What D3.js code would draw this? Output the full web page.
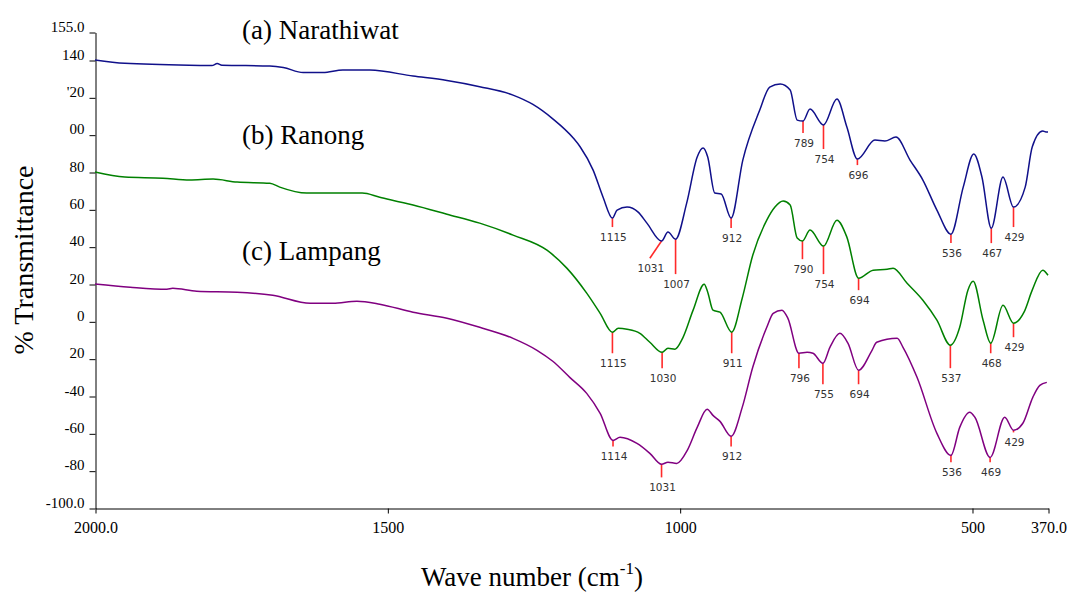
<!DOCTYPE html>
<html>
<head>
<meta charset="utf-8">
<script src="https://cdn.jsdelivr.net/npm/d3@7/dist/d3.min.js"></script>
<style>
  html, body { margin: 0; padding: 0; background: #fff; }
  svg { display: block; }
</style>
</head>
<body>
<svg id="chart" width="1070" height="592"></svg>
<script>
// ---------- DATA ----------
const xTicks = [2000, 1500, 1000, 500, 370];
const xTickLabels = ["2000.0", "1500", "1000", "500", "370.0"];
const yTicks = [155, 140, 120, 100, 80, 60, 40, 20, 0, -20, -40, -60, -80, -100];
const yTickLabels = ["155.0", "140", "'20", "00", "80", "60", "40", "20", "0", "20", "-40", "-60", "-80", "-100.0"];

const seriesNames = ["(a) Narathiwat", "(b) Ranong", "(c) Lampang"];

// [wavenumber cm-1, % transmittance]
const narathiwat = [
  [2000,140.0],[1949,138.2],[1820,137.1],[1800,137.0],[1791,138.1],[1783,137.2],[1701,136.8],
  [1678,136.0],[1644,133.3],[1610,133.3],[1576,134.7],[1530,134.6],[1456,131.4],[1398,129.0],
  [1342,125.7],[1285,121.2],[1251,116.2],[1217,108.5],[1182,98.2],[1170,93.4],
  [1148,81.0],[1131,66.5],[1115,55.3],[1107,59.6],[1090,61.2],[1071,58.5],[1056,52.6],
  [1031,43.0],[1020,47.8],[1007,44.0],[988,63.3],[970,88.0],[960,92.8],[952,88.0],[940,68.7],
  [929,68.2],[912,55.3],[892,86.4],[863,113.2],[846,125.5],[828,127.1],[811,123.9],[799,107.8],
  [789,107.3],[777,113.7],[754,105.2],[731,119.1],[714,104.1],[696,86.9],[666,97.1],[649,96.6],
  [630,98.7],[606,86.4],[584,75.7],[560,59.6],[536,46.7],[515,71.9],[497,89.6],[483,77.3],
  [467,49.9],[447,77.3],[429,61.2],[409,71.9],[397,93.4],[379,101.9],[372,101.4],[370,101.4]
];
const ranong = [
  [2000,80.0],[1949,77.3],[1884,76.7],[1838,75.7],[1798,76.2],[1757,74.6],[1701,74.0],[1684,71.9],
  [1638,68.7],[1604,68.7],[1543,68.7],[1513,66.5],[1456,62.3],[1398,57.4],[1342,52.6],[1285,46.2],
  [1227,38.1],[1193,28.5],[1159,15.1],[1136,4.3],[1115,-5.8],[1105,-3.7],[1090,-4.2],[1068,-6.4],
  [1051,-11.2],[1030,-16.6],[1020,-14.4],[1008,-14.9],[995,-9.1],[977,6.0],[958,19.9],[952,15.6],
  [943,6.0],[931,4.9],[911,-5.8],[893,12.4],[875,35.4],[851,54.2],[837,61.2],[823,64.4],[811,62.3],
  [799,44.6],[790,43.0],[777,48.9],[754,40.3],[731,54.2],[714,45.1],[694,23.1],[669,27.4],[645,27.9],
  [635,28.5],[611,20.4],[584,11.3],[560,0.6],[537,-12.8],[521,-3.2],[507,16.7],[498,21.5],[481,0.6],
  [468,-11.7],[447,8.6],[429,-1.0],[411,4.9],[397,16.7],[379,27.4],[370,24.7]
];
const lampang = [
  [2000,20.0],[1940,18.3],[1877,17.2],[1867,17.7],[1826,16.1],[1757,15.6],[1696,14.0],[1632,9.7],
  [1593,9.7],[1552,10.8],[1513,9.2],[1456,4.9],[1398,1.7],[1342,-3.2],[1285,-9.1],[1244,-15.5],
  [1217,-21.4],[1188,-30.0],[1159,-38.6],[1136,-49.3],[1114,-63.8],[1102,-62.1],[1073,-65.4],
  [1051,-70.7],[1031,-76.6],[1020,-75.5],[1005,-76.1],[987,-69.1],[970,-56.8],[953,-47.1],
  [943,-50.4],[931,-53.6],[912,-61.6],[893,-46.1],[875,-24.6],[851,-3.2],[840,4.3],[825,6.0],
  [815,1.7],[796,-17.1],[782,-16.6],[772,-17.1],[755,-22.5],[743,-13.9],[726,-6.4],[712,-11.8],
  [694,-26.2],[671,-15.5],[663,-11.2],[628,-9.1],[618,-13.9],[594,-30.0],[560,-60.0],[536,-71.8],
  [521,-56.8],[504,-48.7],[495,-51.4],[469,-72.9],[444,-51.4],[429,-58.4],[413,-54.6],[396,-40.7],
  [384,-34.3],[372,-32.7]
];

// peak annotations: [wavenumber, label, marker end (% T), optional marker end wavenumber]
const peaksNarathiwat = [
  [1115,"1115",50.5],[1031,"1031",33.8,1051],[1007,"1007",25.3],[912,"912",50.0],
  [789,"789",100.9],[754,"754",92.3],[696,"696",83.7],[536,"536",41.9],[467,"467",41.9],[429,"429",50.5]
];
const peaksRanong = [
  [1115,"1115",-17.1],[1030,"1030",-25.1],[911,"911",-17.1],[790,"790",33.3],[754,"754",25.3],
  [694,"694",16.7],[537,"537",-25.1],[468,"468",-17.1],[429,"429",-8.5]
];
const peaksLampang = [
  [1114,"1114",-67.0],[1031,"1031",-83.6],[912,"912",-67.0],[796,"796",-25.1],[755,"755",-33.7],
  [694,"694",-33.7],[536,"536",-75.5],[469,"469",-75.5],[429,"429",-59.5]
];

// ---------- DRAW ----------
const svg = d3.select("#chart");
svg.append("rect").attr("width",1070).attr("height",592).attr("fill","#fff");

const x = d3.scaleLinear().domain([2000, 370]).range([95, 1048]);
const y = d3.scaleLinear().domain([-100, 155]).range([508, 32]);

const serif = "'Liberation Serif', 'Times New Roman', Times, serif";

// axes
const gx = svg.append("g").attr("transform", "translate(0.5,508.5)")
  .call(d3.axisBottom(x).tickValues(xTicks).tickSize(5).tickSizeOuter(0).tickPadding(8)
    .tickFormat((d,i) => xTickLabels[i]));
gx.attr("font-family", null).attr("font-size", null);
gx.selectAll("text").style("font-family", serif).style("font-size", "16px").attr("fill", "#000");
gx.selectAll("path,line").attr("stroke", "#000");

const gy = svg.append("g").attr("transform", "translate(95.5,0.5)")
  .call(d3.axisLeft(y).tickValues(yTicks).tickSize(6).tickSizeOuter(0).tickPadding(5)
    .tickFormat((d,i) => yTickLabels[i]));
gy.attr("font-family", null).attr("font-size", null);
gy.selectAll("text").style("font-family", serif).style("font-size", "15px").attr("fill", "#000").attr("dy", "-0.08em");
gy.selectAll("path,line").attr("stroke", "#000");

// axis titles
svg.append("text")
  .attr("transform", "translate(33,260) rotate(-90)")
  .attr("text-anchor", "middle")
  .style("font-family", serif).style("font-size", "28px")
  .text("% Transmittance");

const xt = svg.append("text")
  .attr("x", 532).attr("y", 586)
  .attr("text-anchor", "middle")
  .style("font-family", serif).style("font-size", "27px");
xt.append("tspan").text("Wave number (cm");
xt.append("tspan").style("font-size", "17px").attr("dy", -12).text("-1");
xt.append("tspan").attr("dy", 12).text(")");

// series
const series = [
  {name: seriesNames[0], data: narathiwat, peaks: peaksNarathiwat, color: "#10108a", labelY: 39},
  {name: seriesNames[1], data: ranong, peaks: peaksRanong, color: "#008000", labelY: 144},
  {name: seriesNames[2], data: lampang, peaks: peaksLampang, color: "#800080", labelY: 260}
];

const line = d3.line().x(d => x(d[0])).y(d => y(d[1])).curve(d3.curveMonotoneX);

series.forEach(s => {
  const lookup = new Map(s.data.map(d => [d[0], d[1]]));
  s.peaks.forEach(p => {
    const w = p[0], top = lookup.get(w), endW = p[3] !== undefined ? p[3] : w;
    svg.append("line")
      .attr("x1", x(w)).attr("y1", y(top))
      .attr("x2", x(endW)).attr("y2", y(p[2]))
      .attr("stroke", "#ff2a2a").attr("stroke-width", 1.6);
    svg.append("text")
      .attr("x", x(endW) + 1).attr("y", y(p[2]) + 14)
      .attr("text-anchor", "middle")
      .style("font-family", "'DejaVu Sans', Verdana, sans-serif").style("font-size", "10.5px")
      .attr("fill", "#333")
      .text(p[1]);
  });
  svg.append("path").datum(s.data)
    .attr("d", line).attr("fill", "none")
    .attr("stroke", s.color).attr("stroke-width", 1.5).attr("stroke-linejoin", "round");
  svg.append("text")
    .attr("x", 242).attr("y", s.labelY)
    .style("font-family", serif).style("font-size", "27px").attr("fill", "#000")
    .text(s.name);
});
</script>
</body>
</html>
